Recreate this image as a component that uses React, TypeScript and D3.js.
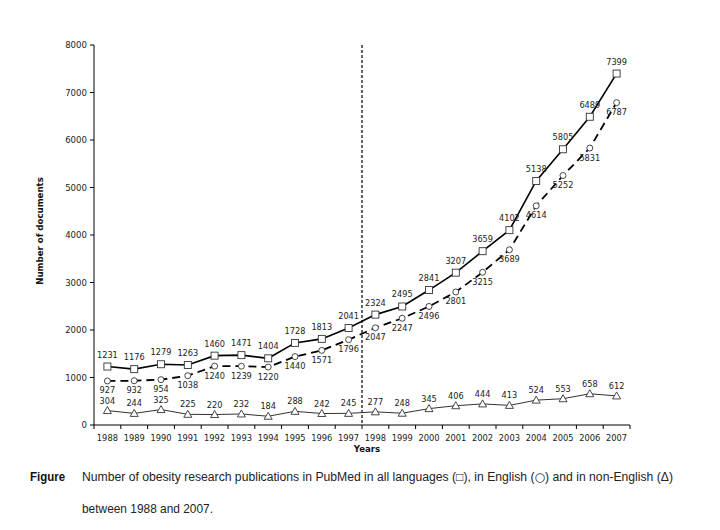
import React from 'react';
import * as d3 from 'd3';

const years = ['1988','1989','1990','1991','1992','1993','1994','1995','1996','1997','1998','1999','2000','2001','2002','2003','2004','2005','2006','2007'];
const allLang = [1231,1176,1279,1263,1460,1471,1404,1728,1813,2041,2324,2495,2841,3207,3659,4102,5138,5805,6489,7399];
const english = [927,932,954,1038,1240,1239,1220,1440,1571,1796,2047,2247,2496,2801,3215,3689,4614,5252,5831,6787];
const nonEnglish = [304,244,325,225,220,232,184,288,242,245,277,248,345,406,444,413,524,553,658,612];
const yTicks = [0,1000,2000,3000,4000,5000,6000,7000,8000];
const dividerAfter = '1997';

const W = 720, H = 530;
const M = { left: 94, right: 630, top: 45, bottom: 425 };
const FONT = 'DejaVu Sans, Verdana, sans-serif';

export default function App() {
  const x = d3.scaleBand<string>().domain(years).range([M.left, M.right]).padding(0);
  const y = d3.scaleLinear().domain([0, 8000]).range([M.bottom, M.top]);
  const cx = (yr: string) => (x(yr) as number) + x.bandwidth() / 2;
  const line = d3.line<number>().x((_, i) => cx(years[i])).y((v) => y(v));
  const divX = (x(dividerAfter) as number) + x.bandwidth();
  const boundaries = years.map((yr) => (x(yr) as number) + x.bandwidth());

  return (
    <svg width={W} height={H} style={{ position: 'absolute', left: 0, top: 0, background: '#fff' }}>
      <rect x={0} y={0} width={W} height={H} fill="#fff" />
      {/* y axis */}
      <line x1={M.left} x2={M.left} y1={M.top} y2={M.bottom} stroke="#000" strokeWidth={1} />
      {yTicks.map((t) => (
        <g key={t}>
          <line x1={M.left - 4} x2={M.left} y1={y(t)} y2={y(t)} stroke="#000" />
          <text x={M.left - 7} y={y(t)} dy="0.35em" textAnchor="end" fontFamily={FONT} fontSize={8.6} fill="#222">{t}</text>
        </g>
      ))}
      {/* x axis */}
      <line x1={M.left} x2={M.right} y1={M.bottom} y2={M.bottom} stroke="#000" />
      <line x1={M.left} x2={M.left} y1={M.bottom} y2={M.bottom + 4} stroke="#000" />
      {boundaries.map((b, i) => (
        <line key={i} x1={b} x2={b} y1={M.bottom} y2={M.bottom + 4} stroke="#000" />
      ))}
      {years.map((yr) => (
        <text key={yr} x={cx(yr)} y={M.bottom + 16} textAnchor="middle" fontFamily={FONT} fontSize={8.3} fill="#222">{yr}</text>
      ))}
      {/* divider */}
      <line x1={divX} x2={divX} y1={M.top} y2={M.bottom} stroke="#000" strokeWidth={1.2} strokeDasharray="3,2" />
      {/* axis titles */}
      <text x={367} y={452} textAnchor="middle" fontFamily={FONT} fontWeight="bold" fontSize={8.6} fill="#111">Years</text>
      <text transform={`translate(43,231) rotate(-90)`} textAnchor="middle" fontFamily={FONT} fontWeight="bold" fontSize={8.6} fill="#111">Number of documents</text>

      {/* non-English */}
      <path d={line(nonEnglish) || ''} fill="none" stroke="#333" strokeWidth={1} />
      {nonEnglish.map((v, i) => {
        const px = cx(years[i]), py = y(v);
        return (
          <g key={'n' + i}>
            <path d={`M${px},${py - 4}L${px + 4},${py + 3}L${px - 4},${py + 3}Z`} fill="#fff" stroke="#333" strokeWidth={0.9} />
            <text x={px} y={py - 7} textAnchor="middle" fontFamily={FONT} fontSize={8.2} fill="#222">{v}</text>
          </g>
        );
      })}
      {/* English */}
      <path d={line(english) || ''} fill="none" stroke="#000" strokeWidth={1.8} strokeDasharray="8,5" />
      {english.map((v, i) => {
        const px = cx(years[i]), py = y(v);
        return (
          <g key={'e' + i}>
            <circle cx={px} cy={py} r={3} fill="#fff" stroke="#333" strokeWidth={0.9} />
            <text x={px} y={py + 12.5} textAnchor="middle" fontFamily={FONT} fontSize={8.2} fill="#222">{v}</text>
          </g>
        );
      })}
      {/* All languages */}
      <path d={line(allLang) || ''} fill="none" stroke="#000" strokeWidth={1.6} />
      {allLang.map((v, i) => {
        const px = cx(years[i]), py = y(v);
        return (
          <g key={'a' + i}>
            <rect x={px - 3.5} y={py - 3.5} width={7} height={7} fill="#fff" stroke="#333" strokeWidth={0.9} />
            <text x={px} y={py - 9} textAnchor="middle" fontFamily={FONT} fontSize={8.2} fill="#222">{v}</text>
          </g>
        );
      })}

      {/* caption */}
      <text x={30} y={481} fontFamily="Liberation Sans, Arial, sans-serif" fontWeight="bold" fontSize={12} textLength={35} lengthAdjust="spacingAndGlyphs" fill="#111">Figure</text>
      <text x={82} y={481} fontFamily="Liberation Sans, Arial, sans-serif" fontSize={12} textLength={591} lengthAdjust="spacingAndGlyphs" fill="#222">Number of obesity research publications in PubMed in all languages (□), in English (<tspan fontFamily="DejaVu Sans">○</tspan>) and in non-English (Δ)</text>
      <text x={82} y={513} fontFamily="Liberation Sans, Arial, sans-serif" fontSize={12} textLength={131} lengthAdjust="spacingAndGlyphs" fill="#222">between 1988 and 2007.</text>
    </svg>
  );
}
